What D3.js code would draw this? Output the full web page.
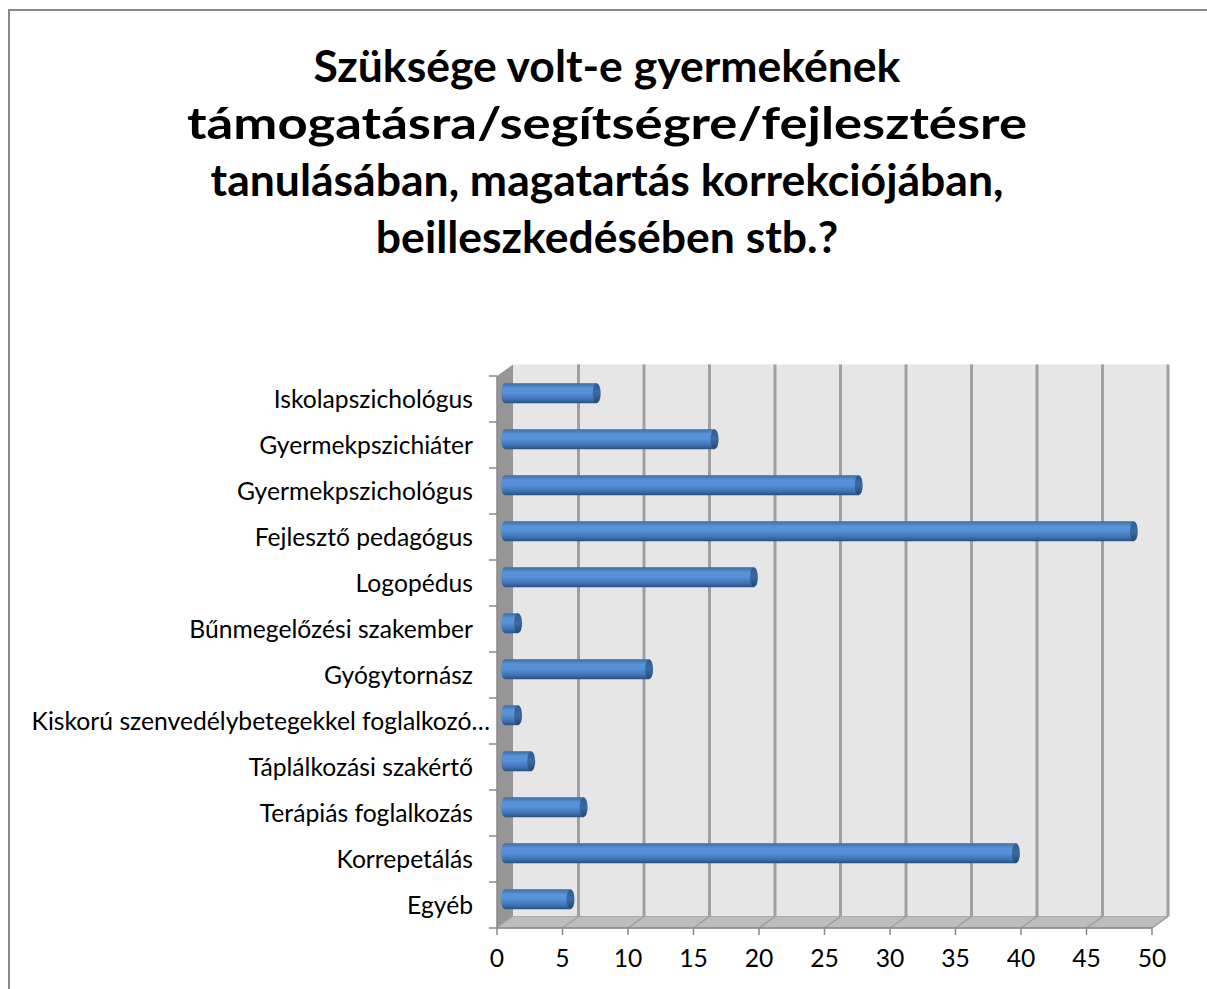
<!DOCTYPE html>
<html>
<head>
<meta charset="utf-8">
<script src="https://cdn.jsdelivr.net/npm/d3@7"></script>
<style>
  body { margin: 0; background: #fff; }
  text { font-family: Lato, "Open Sans", sans-serif; }
</style>
</head>
<body>
<svg id="chart" width="1207" height="989"></svg>
<script>
var titleLines = [
  "Szüksége volt-e gyermekének",
  "támogatásra/segítségre/fejlesztésre",
  "tanulásában, magatartás korrekciójában,",
  "beilleszkedésében stb.?"
];
var categories = [
  "Iskolapszichológus",
  "Gyermekpszichiáter",
  "Gyermekpszichológus",
  "Fejlesztő pedagógus",
  "Logopédus",
  "Bűnmegelőzési szakember",
  "Gyógytornász",
  "Kiskorú szenvedélybetegekkel foglalkozó…",
  "Táplálkozási szakértő",
  "Terápiás foglalkozás",
  "Korrepetálás",
  "Egyéb"
];
var values = [7, 16, 27, 48, 19, 1, 11, 1, 2, 6, 39, 5];
var xTicks = [0, 5, 10, 15, 20, 25, 30, 35, 40, 45, 50];

var svg = d3.select("#chart");

// chart frame
svg.append("path")
  .attr("d", "M9,1000 L9,10 L1210,10")
  .attr("fill", "none")
  .attr("stroke", "#888")
  .attr("stroke-width", 2);

// 3d depth of the plot box
var dx = 16, dy = -11.5;

var x = d3.scaleLinear().domain([0, 50]).range([497, 1152]);
var y = d3.scaleBand().domain(categories).range([376, 928]);

var x0 = x(0), x1 = x(50), yTop = y.range()[0], yBot = y.range()[1];

var defs = svg.append("defs");
var bodyGrad = defs.append("linearGradient")
  .attr("id", "barBody").attr("x1", 0).attr("y1", 0).attr("x2", 0).attr("y2", 1);
bodyGrad.append("stop").attr("offset", "0%").attr("stop-color", "#3a6aa3");
bodyGrad.append("stop").attr("offset", "25%").attr("stop-color", "#5b93d8");
bodyGrad.append("stop").attr("offset", "50%").attr("stop-color", "#5690d6");
bodyGrad.append("stop").attr("offset", "80%").attr("stop-color", "#3f72b3");
bodyGrad.append("stop").attr("offset", "100%").attr("stop-color", "#284f80");

var capGrad = defs.append("linearGradient")
  .attr("id", "barCap").attr("x1", 0).attr("y1", 0).attr("x2", 0).attr("y2", 1);
capGrad.append("stop").attr("offset", "0%").attr("stop-color", "#2f5a8e");
capGrad.append("stop").attr("offset", "50%").attr("stop-color", "#3b6aa4");
capGrad.append("stop").attr("offset", "100%").attr("stop-color", "#23466f");

// back wall
svg.append("rect")
  .attr("x", x0 + dx).attr("y", yTop + dy)
  .attr("width", x1 - x0).attr("height", yBot - yTop)
  .attr("fill", "#e6e6e6");

// side wall
svg.append("polygon")
  .attr("points", [[x0, yTop], [x0 + dx, yTop + dy], [x0 + dx, yBot + dy], [x0, yBot]].join(" "))
  .attr("fill", "#969696");

// floor
svg.append("polygon")
  .attr("points", [[x0, yBot], [x0 + dx, yBot + dy], [x1 + dx, yBot + dy], [x1, yBot]].join(" "))
  .attr("fill", "#bdbdbd")
  .attr("stroke", "#aaa")
  .attr("stroke-width", 1);

// gridlines on back wall and floor
var grid = svg.append("g").attr("class", "grid");
grid.selectAll("line.back")
  .data(xTicks.slice(1))
  .enter().append("line")
  .attr("class", "back")
  .attr("x1", function(d) { return x(d) + dx; })
  .attr("x2", function(d) { return x(d) + dx; })
  .attr("y1", yTop + dy)
  .attr("y2", yBot + dy)
  .attr("stroke", "#a0a0a0")
  .attr("stroke-width", 3);
grid.selectAll("line.floor")
  .data(xTicks.slice(1))
  .enter().append("line")
  .attr("class", "floor")
  .attr("x1", function(d) { return x(d) + dx; })
  .attr("x2", function(d) { return x(d); })
  .attr("y1", yBot + dy)
  .attr("y2", yBot)
  .attr("stroke", "#9d9d9d")
  .attr("stroke-width", 1.5);

// bars (cylinders, drawn at half depth)
var barH = 20;
var bars = svg.append("g").attr("class", "bars")
  .selectAll("g")
  .data(categories)
  .enter().append("g");

function barY(d) { return y(d) + y.bandwidth() / 2 + dy / 2 - barH / 2; }
function barStart() { return x0 + dx / 2; }
function barEnd(d, i) { return x(values[i]) + dx / 2; }

bars.append("ellipse")
  .attr("cx", barStart)
  .attr("cy", function(d) { return barY(d) + barH / 2; })
  .attr("rx", 4).attr("ry", barH / 2)
  .attr("fill", "url(#barBody)");
bars.append("rect")
  .attr("x", barStart)
  .attr("y", barY)
  .attr("width", function(d, i) { return barEnd(d, i) - barStart(); })
  .attr("height", barH)
  .attr("fill", "url(#barBody)");
bars.append("ellipse")
  .attr("cx", barEnd)
  .attr("cy", function(d) { return barY(d) + barH / 2; })
  .attr("rx", 4).attr("ry", barH / 2)
  .attr("fill", "url(#barCap)");

// axes
var axes = svg.append("g").attr("class", "axes").attr("stroke", "#888").attr("stroke-width", 1.5);
axes.append("line")
  .attr("x1", x0).attr("x2", x0).attr("y1", yTop).attr("y2", yBot);
axes.append("line")
  .attr("x1", x0).attr("x2", x1).attr("y1", yBot).attr("y2", yBot);
axes.selectAll("line.ytick")
  .data(d3.range(categories.length + 1))
  .enter().append("line")
  .attr("class", "ytick")
  .attr("x1", x0 - 8).attr("x2", x0)
  .attr("y1", function(i) { return yTop + i * y.step(); })
  .attr("y2", function(i) { return yTop + i * y.step(); });
axes.selectAll("line.xtick")
  .data(xTicks)
  .enter().append("line")
  .attr("class", "xtick")
  .attr("x1", x).attr("x2", x)
  .attr("y1", yBot).attr("y2", yBot + 7);

// fit a font size so some lines get the width
function fitSize(strs, weight, target) {
  var w = 0;
  strs.forEach(function(s) {
    var t = svg.append("text").attr("font-size", 100).attr("font-weight", weight).text(s);
    w += t.node().getComputedTextLength();
    t.remove();
  });
  return 100 * target / w;
}

var labelSize = fitSize([categories[0], categories[7]], "normal", 200 + 458);
svg.append("g").attr("class", "ylabels")
  .selectAll("text")
  .data(categories)
  .enter().append("text")
  // the cut long label runs a bit further right, as in the original
  .attr("x", function(d, i) { return i === 7 ? 490 : 473; })
  .attr("y", function(d) { return y(d) + y.bandwidth() / 2 + labelSize * 0.35; })
  .attr("text-anchor", "end")
  .attr("font-size", labelSize)
  .attr("fill", "#000")
  .text(function(d) { return d; });

svg.append("g").attr("class", "xlabels")
  .selectAll("text")
  .data(xTicks)
  .enter().append("text")
  .attr("x", x)
  .attr("y", 967)
  .attr("text-anchor", "middle")
  .attr("font-size", labelSize)
  .attr("fill", "#000")
  .text(function(d) { return d; });

var titleSize = fitSize([titleLines[0], titleLines[2], titleLines[3]], "bold", 579 + 816 + 447);
svg.append("g").attr("class", "title")
  .selectAll("text")
  .data(titleLines)
  .enter().append("text")
  .attr("x", 607)
  .attr("y", function(d, i) { return 82 + i * 57; })
  .attr("text-anchor", "middle")
  .attr("font-size", titleSize)
  .attr("font-weight", "bold")
  .attr("fill", "#000")
  .text(function(d) { return d; })
  .each(function(d, i) {
    // second line is wider in the original font
    if (i === 1) d3.select(this).attr("textLength", 840).attr("lengthAdjust", "spacingAndGlyphs");
  });
</script>
</body>
</html>
